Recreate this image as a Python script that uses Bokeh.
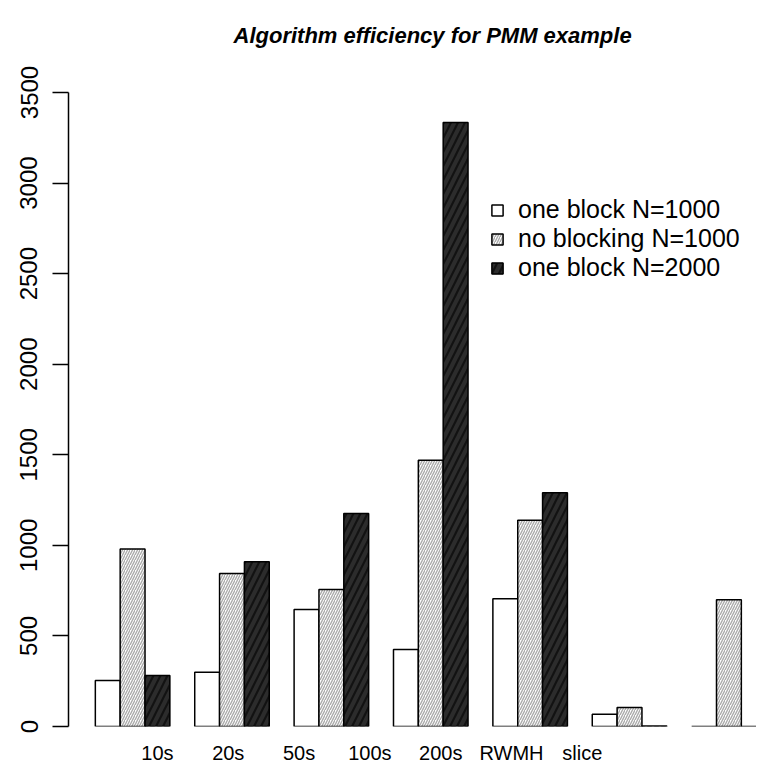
from bokeh.plotting import figure
from bokeh.models import ColumnDataSource, FixedTicker, Legend, LegendItem, Range1d, Title
from bokeh.embed import file_html
from bokeh.resources import INLINE

categories = ["10s", "20s", "50s", "100s", "200s", "RWMH", "slice"]
series_names = ["one block N=1000", "no blocking N=1000", "one block N=2000"]
one_block_1000 = [254, 300, 646, 425, 705, 68, 0]
no_blocking_1000 = [980, 845, 756, 1470, 1139, 105, 700]
one_block_2000 = [281, 910, 1176, 3335, 1290, 3, 0]
y_ticks = [0, 500, 1000, 1500, 2000, 2500, 3000, 3500]
title_text = "Algorithm efficiency for PMM example"

FONT = "Liberation Sans"

x_lo = 1 - 0.04 * 27

p = figure(width=756, height=767, output_backend="svg", toolbar_location=None,
           x_range=Range1d(x_lo, 27.61), y_range=Range1d(0, 3500),
           min_border_left=68, min_border_right=0, min_border_top=92, min_border_bottom=41)
p.title.text = title_text
p.title.text_font = FONT
p.title.text_font_style = "bold italic"
p.title.text_font_size = "22px"
p.title.text_color = "black"
p.title.align = "left"
p.title.offset = 165
p.title.standoff = 0
# blank spacer between the title and the plot area
spacer = Title(text=" ", text_font=FONT, text_font_size="22px", standoff=18)
p.add_layout(spacer, "above")
p.outline_line_color = None
p.xgrid.visible = False
p.ygrid.visible = False
p.background_fill_color = "white"

series = [one_block_1000, no_blocking_1000, one_block_2000]
styles = [
    dict(fill_color="white"),
    dict(fill_color="white", hatch_pattern="/", hatch_color="#ababab", hatch_scale=5, hatch_weight=1.4),
    dict(fill_color="#121212", hatch_pattern="/", hatch_color="#2c2c2c", hatch_scale=14, hatch_weight=4),
]
items = []
for j, vals in enumerate(series):
    xs = [1 + 4 * g + j + 0.5 for g in range(len(categories))]
    src = ColumnDataSource(dict(x=xs, top=vals))
    r = p.vbar(x="x", top="top", bottom=0, width=1, source=src,
               line_color="black", line_width=1.5, **styles[j])
    items.append(LegendItem(label=series_names[j], renderers=[r]))

legend = Legend(items=items, location=(422, 444), border_line_color=None,
                background_fill_alpha=0, padding=0, spacing=0, margin=0,
                label_text_font=FONT, label_text_font_size="25px", label_text_color="black",
                glyph_width=14, glyph_height=14, label_height=27, label_standoff=14)
p.add_layout(legend, "center")

p.yaxis.ticker = FixedTicker(ticks=y_ticks)
p.yaxis.major_label_orientation = "vertical"
p.yaxis.major_tick_out = 16
p.yaxis.major_tick_in = 0
p.yaxis.minor_tick_line_color = None
p.yaxis.axis_line_width = 1.5
p.yaxis.major_tick_line_width = 1.5
p.yaxis.major_label_text_font = FONT
p.yaxis.major_label_text_font_size = "24px"
p.yaxis.major_label_text_color = "black"
p.yaxis.major_label_standoff = 15

label_start, label_step = 3.5, 2.85
label_pos = [label_start + label_step * g for g in range(len(categories))]
p.xaxis.ticker = FixedTicker(ticks=label_pos)
p.xaxis.major_label_overrides = {c: lab for c, lab in zip(label_pos, categories)}
p.xaxis.axis_line_color = None
p.xaxis.major_tick_line_color = None
p.xaxis.minor_tick_line_color = None
p.xaxis.major_label_text_font = FONT
p.xaxis.major_label_text_font_size = "20px"
p.xaxis.major_label_text_color = "black"
p.xaxis.major_label_standoff = 9

open("out.html", "w").write(file_html(p, INLINE))
